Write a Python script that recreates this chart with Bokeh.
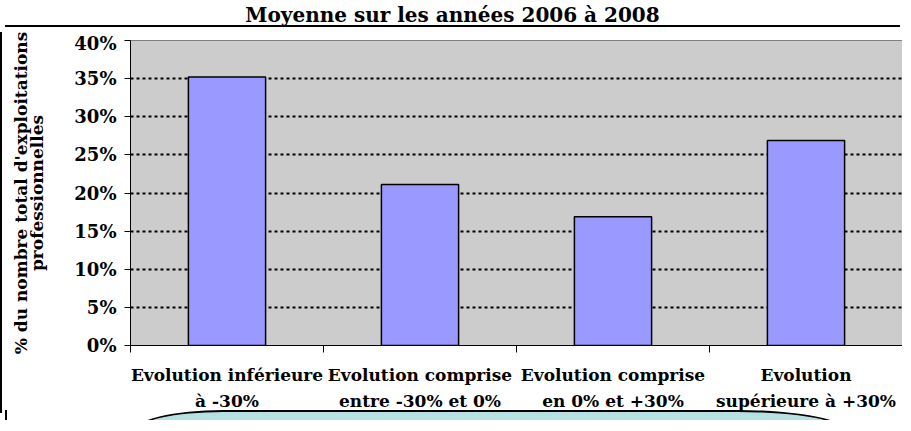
from bokeh.plotting import figure
from bokeh.models import Range1d, FixedTicker, NumeralTickFormatter, Div, ColumnDataSource
from bokeh.layouts import column
from bokeh.embed import file_html
from bokeh.resources import INLINE

# ---- data ----
title_text = "Moyenne sur les années 2006 à 2008"
categories = [
    "Evolution inférieure\nà -30%",
    "Evolution comprise\nentre -30% et 0%",
    "Evolution comprise\nen 0% et +30%",
    "Evolution\nsupérieure à +30%",
]
values = [0.352, 0.211, 0.169, 0.269]
y_ticks = [0.0, 0.05, 0.10, 0.15, 0.20, 0.25, 0.30, 0.35, 0.40]
y_label = "% du nombre total d'exploitations\nprofessionnelles"

FONT = "DejaVu Serif"

centers = [i + 0.5 for i in range(len(categories))]
bounds = [i for i in range(len(categories) + 1)]
src = ColumnDataSource(dict(x=centers, top=values))

p = figure(
    frame_width=770, frame_height=305,
    x_range=Range1d(0, len(categories)), y_range=Range1d(0, 0.40),
    output_backend="svg", toolbar_location=None,
    min_border_left=128, min_border_right=2, min_border_top=8, min_border_bottom=60,
)
p.background_fill_color = "#cccccc"
p.border_fill_color = "white"
p.outline_line_color = "#808080"
p.outline_line_width = 1

p.vbar(x="x", top="top", width=0.4, source=src,
       fill_color="#9999ff", line_color="black", line_width=1.5)

# grid
p.xgrid.grid_line_color = None
p.ygrid.grid_line_color = "black"
p.ygrid.grid_line_dash = "3 3"
p.ygrid.grid_line_width = 2

# y axis
p.yaxis.ticker = FixedTicker(ticks=y_ticks)
p.yaxis.formatter = NumeralTickFormatter(format="0%")
p.yaxis.major_tick_out = 6
p.yaxis.major_tick_in = 0
p.yaxis.minor_tick_out = 0
p.yaxis.minor_tick_in = 0
p.yaxis.axis_line_color = "black"
p.yaxis.major_label_text_font = FONT
p.yaxis.major_label_text_font_style = "bold"
p.yaxis.major_label_text_font_size = "18px"
p.yaxis.major_label_text_color = "black"
p.yaxis.major_label_standoff = 8
p.yaxis.axis_label = y_label
p.yaxis.axis_label_text_font = FONT
p.yaxis.axis_label_text_font_style = "bold"
p.yaxis.axis_label_text_font_size = "17px"
p.yaxis.axis_label_text_color = "black"
p.yaxis.axis_label_text_line_height = 0.82
p.yaxis.axis_label_standoff = 24
p.yaxis.axis_label_text_align = "center"

# x axis
p.xaxis.ticker = FixedTicker(ticks=centers, minor_ticks=bounds)
p.xaxis.major_label_overrides = {c: lab for c, lab in zip(centers, categories)}
p.xaxis.major_tick_out = 0
p.xaxis.major_tick_in = 0
p.xaxis.minor_tick_out = 7
p.xaxis.minor_tick_in = 0
p.xaxis.axis_line_color = "black"
p.xaxis.major_label_text_font = FONT
p.xaxis.major_label_text_font_style = "bold"
p.xaxis.major_label_text_font_size = "17px"
p.xaxis.major_label_text_line_height = 1.3
p.xaxis.major_label_text_color = "black"
p.xaxis.major_label_standoff = 12

p.styles = {"border-left": "2px solid black"}

title_div = Div(
    text=title_text, width=895, height=22,
    styles={"font-family": FONT, "font-weight": "bold", "font-size": "20px",
            "text-align": "center", "line-height": "20px",
            "border-bottom": "2px solid black", "width": "895px"},
)

callout = Div(
    text='<div style="margin-left:126px;margin-top:0px;width:715px;height:40px;'
         'background:#b7e0e3;border:2px solid black;'
         'border-radius:90px 110px 0 0 / 22px 22px 0 0;"></div>',
    width=895, height=10,
    styles={"overflow": "hidden", "margin-top": "-3px",
            "border-left": "2px solid black"},
)

layout = column(title_div, p, callout, spacing=0)

open("out.html", "w").write(file_html(layout, INLINE))
